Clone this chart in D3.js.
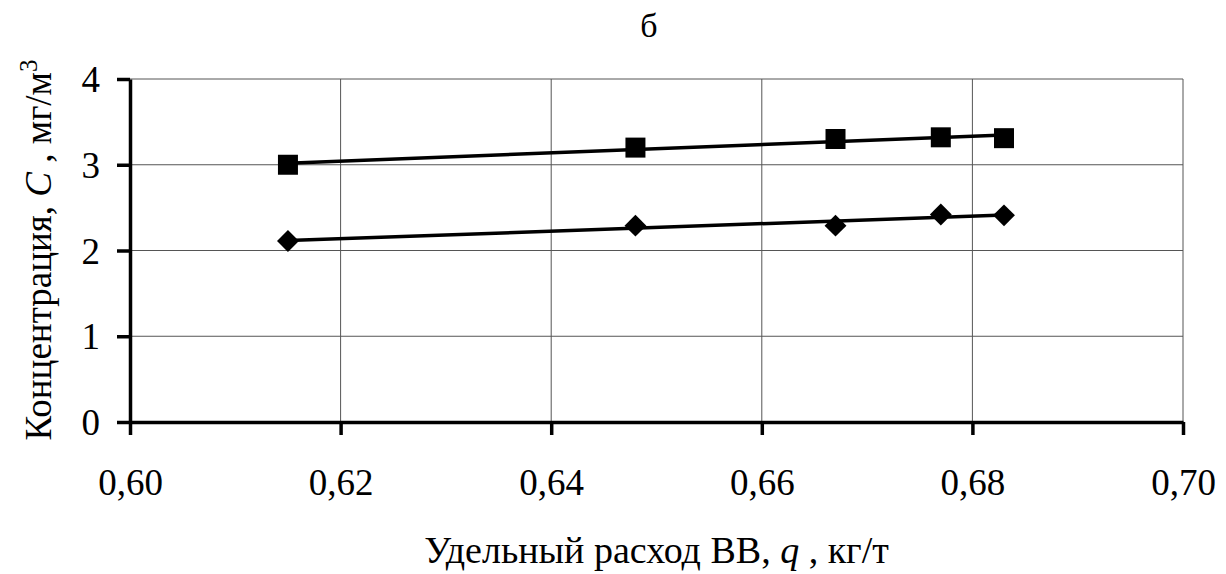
<!DOCTYPE html>
<html>
<head>
<meta charset="utf-8">
<script src="https://cdn.jsdelivr.net/npm/d3@7"></script>
<style>
  body { margin: 0; background: #fff; }
</style>
</head>
<body>
<div id="chart"></div>
<script>
// data
var qValues = [0.615, 0.648, 0.667, 0.677, 0.683];
var upperSeries = [3.0, 3.2, 3.3, 3.32, 3.31];   // squares
var lowerSeries = [2.11, 2.29, 2.29, 2.42, 2.41]; // diamonds
var xTicks = [0.60, 0.62, 0.64, 0.66, 0.68, 0.70];
var yTicks = [0, 1, 2, 3, 4];

var serif = "'Liberation Serif', 'Times New Roman', serif";

var svgWidth = 1226;
var svgHeight = 574;

var margin = { top: 79, right: 43, bottom: 152, left: 130 };
var width = svgWidth - margin.left - margin.right;
var height = svgHeight - margin.top - margin.bottom;

var svg = d3.select("#chart")
    .append("svg")
    .attr("width", svgWidth)
    .attr("height", svgHeight);

var chartGroup = svg.append("g")
    .attr("transform", `translate(${margin.left}, ${margin.top})`);

var xScale = d3.scaleLinear().domain([0.60, 0.70]).range([0, width]);
var yScale = d3.scaleLinear().domain([0, 4]).range([height, 0]);

// gridlines
chartGroup.selectAll(".vgrid")
    .data(xTicks.slice(1))
    .enter()
    .append("line")
    .attr("x1", d => xScale(d)).attr("x2", d => xScale(d))
    .attr("y1", 0).attr("y2", height)
    .attr("stroke", "#555").attr("stroke-width", 1);

chartGroup.selectAll(".hgrid")
    .data(yTicks.slice(1))
    .enter()
    .append("line")
    .attr("x1", 0).attr("x2", width)
    .attr("y1", d => yScale(d)).attr("y2", d => yScale(d))
    .attr("stroke", "#555").attr("stroke-width", 1);

// axes
var fmt = d => d3.format(".2f")(d).replace(".", ",");
var bottomAxis = d3.axisBottom(xScale).tickValues(xTicks).tickFormat(fmt)
    .tickSizeInner(13).tickSizeOuter(0).tickPadding(34);
var leftAxis = d3.axisLeft(yScale).tickValues(yTicks).tickFormat(d3.format("d"))
    .tickSizeInner(13).tickSizeOuter(0).tickPadding(17);

var xAxis = chartGroup.append("g")
    .attr("transform", `translate(0, ${height})`)
    .call(bottomAxis);
var yAxis = chartGroup.append("g").call(leftAxis);

[xAxis, yAxis].forEach(function (ax) {
    ax.attr("font-family", null).attr("font-size", null);
    ax.select(".domain").attr("stroke", "#000").attr("stroke-width", 3.5);
    ax.selectAll(".tick line").attr("stroke", "#000").attr("stroke-width", 3.5);
    ax.selectAll(".tick text")
        .style("font-family", serif)
        .style("font-size", "37px").attr("fill", "#000");
});
xAxis.selectAll(".tick text").attr("dy", "0.71em");
yAxis.selectAll(".tick text").attr("dy", "0.34em");

// linear trend lines (least squares)
function trend(xs, ys) {
    var mx = d3.mean(xs), my = d3.mean(ys);
    var sxy = d3.sum(xs, (x, i) => (x - mx) * (ys[i] - my));
    var sxx = d3.sum(xs, x => (x - mx) * (x - mx));
    var b = sxy / sxx, a = my - b * mx;
    var x0 = d3.min(xs), x1 = d3.max(xs);
    return [[x0, a + b * x0], [x1, a + b * x1]];
}

var line = d3.line().x(d => xScale(d[0])).y(d => yScale(d[1]));

[upperSeries, lowerSeries].forEach(function (s) {
    chartGroup.append("path")
        .attr("d", line(trend(qValues, s)))
        .attr("fill", "none")
        .attr("stroke", "#000")
        .attr("stroke-width", 3.5);
});

// markers
chartGroup.selectAll(".sq")
    .data(upperSeries)
    .enter()
    .append("path")
    .attr("d", d3.symbol().type(d3.symbolSquare).size(400))
    .attr("transform", (d, i) => `translate(${xScale(qValues[i])}, ${yScale(d)})`)
    .attr("fill", "#000");

chartGroup.selectAll(".dm")
    .data(lowerSeries)
    .enter()
    .append("path")
    .attr("d", d3.symbol().type(d3.symbolSquare).size(240))
    .attr("transform", (d, i) => `translate(${xScale(qValues[i])}, ${yScale(d)}) rotate(45)`)
    .attr("fill", "#000");

// titles
svg.append("text")
    .attr("x", 649).attr("y", 37)
    .attr("text-anchor", "middle")
    .style("font-family", serif)
    .style("font-size", "34px")
    .text("б");

var xTitle = svg.append("text")
    .attr("x", margin.left + width / 2).attr("y", 563)
    .attr("text-anchor", "middle")
    .style("font-family", serif)
    .style("font-size", "38px");
xTitle.append("tspan").text("Удельный расход ВВ, ");
xTitle.append("tspan").style("font-style", "italic").text("q");
xTitle.append("tspan").text(" , кг/т");

var yTitle = svg.append("text")
    .attr("transform", "translate(51, 250) rotate(-90)")
    .attr("text-anchor", "middle")
    .style("font-family", serif)
    .style("font-size", "37px");
yTitle.append("tspan").text("Концентрация,  ");
yTitle.append("tspan").style("font-style", "italic").text("C");
yTitle.append("tspan").text(" , мг/м");
yTitle.append("tspan").attr("dy", "-0.55em").style("font-size", "25px").text("3");
</script>
</body>
</html>
